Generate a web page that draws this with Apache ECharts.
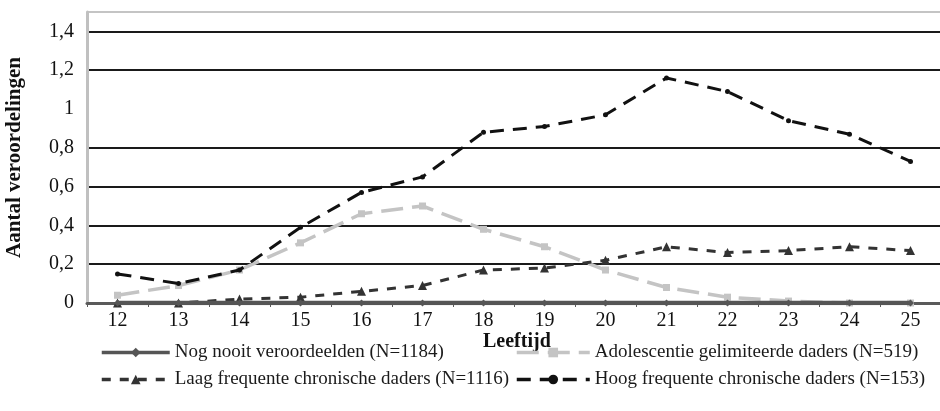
<!DOCTYPE html>
<html>
<head>
<meta charset="utf-8">
<script src="https://cdn.jsdelivr.net/npm/echarts@6/dist/echarts.min.js"></script>
<style>
  html, body { margin: 0; padding: 0; background: #fff; }
  #main { width: 940px; height: 411px; }
</style>
</head>
<body>
<div id="main"></div>
<script>
// leeftijden op de x-as
const ages = ['12', '13', '14', '15', '16', '17', '18', '19', '20', '21', '22', '23', '24', '25'];

// gemiddeld aantal veroordelingen per groep
const nogNooit = [0, 0, 0, 0, 0, 0, 0, 0, 0, 0, 0, 0, 0, 0];
const adolescentie = [0.04, 0.09, 0.17, 0.31, 0.46, 0.50, 0.38, 0.29, 0.17, 0.08, 0.03, 0.01, 0, 0];
const laagFrequent = [0, 0, 0.02, 0.03, 0.06, 0.09, 0.17, 0.18, 0.22, 0.29, 0.26, 0.27, 0.29, 0.27];
const hoogFrequent = [0.15, 0.10, 0.17, 0.39, 0.57, 0.65, 0.88, 0.91, 0.97, 1.16, 1.09, 0.94, 0.87, 0.73];

const names = [
  'Nog nooit veroordeelden (N=1184)',
  'Adolescentie gelimiteerde daders (N=519)',
  'Laag frequente chronische daders (N=1116)',
  'Hoog frequente chronische daders (N=153)'
];

const serif = 'Liberation Serif';
const chart = echarts.init(document.getElementById('main'), null, { renderer: 'canvas' });

const legendText = { fontFamily: serif, fontSize: 19, color: '#1a1a1a', lineHeight: 19 };

const option = {
  animation: false,
  grid: {
    left: 87, width: 854, top: 12, bottom: 108,
    outerBoundsMode: 'none',
    containLabel: false,
    show: true, borderColor: '#c4c4c4', borderWidth: 1
  },
  legend: [
    {
      data: [names[0], names[2]],
      orient: 'vertical', left: 95, top: 338,
      itemWidth: 68, itemHeight: 12, itemGap: 8,
      lineStyle: { width: 3.5 },
      textStyle: legendText
    },
    {
      data: [names[1], names[3]],
      orient: 'vertical', left: 510, top: 338,
      itemWidth: 73, itemHeight: 12, itemGap: 8,
      lineStyle: { width: 3.5 },
      textStyle: legendText
    }
  ],
  graphic: [
    {
      type: 'text', left: 483, top: 332,
      style: { text: 'Leeftijd', font: 'bold 20px "Liberation Serif"', fill: '#111' }
    }
  ],
  xAxis: {
    type: 'category',
    data: ages,
    boundaryGap: true,
    axisLine: { show: true, lineStyle: { color: '#5a5a5a', width: 3 } },
    axisTick: { show: true, length: 4, lineStyle: { color: '#5a5a5a', width: 1 } },
    axisLabel: { fontFamily: serif, fontSize: 20, color: '#111', margin: 8 }
  },
  yAxis: {
    type: 'value',
    min: 0, max: 1.5, interval: 0.2,
    name: 'Aantal veroordelingen',
    nameLocation: 'middle',
    nameGap: 62,
    nameTextStyle: { fontFamily: serif, fontSize: 21, fontWeight: 'bold', color: '#111' },
    axisLine: { show: true, lineStyle: { color: '#c0c0c0', width: 3 } },
    axisTick: { show: false },
    axisLabel: {
      fontFamily: serif, fontSize: 20, color: '#111', margin: 13,
      formatter: function (v) {
        if (v > 1.45) return '';
        return String(Math.round(v * 10) / 10).replace('.', ',');
      }
    },
    splitLine: {
      show: true,
      lineStyle: {
        width: 2,
        color: ['#1a1a1a', '#1a1a1a', '#1a1a1a', '#1a1a1a', '#1a1a1a',
                'rgba(0,0,0,0)', '#1a1a1a', '#1a1a1a', '#c4c4c4']
      }
    }
  },
  series: [
    {
      name: names[0], type: 'line', data: nogNooit, z: 5,
      symbol: 'diamond', symbolSize: 7,
      itemStyle: { color: '#555' },
      lineStyle: { color: '#555', width: 4.5 }
    },
    {
      name: names[1], type: 'line', data: adolescentie, z: 3,
      symbol: 'rect', symbolSize: 7,
      itemStyle: { color: '#c4c4c4' },
      lineStyle: { color: '#c4c4c4', width: 3.5, type: [22, 9] }
    },
    {
      name: names[2], type: 'line', data: laagFrequent, z: 4,
      symbol: 'triangle', symbolSize: 9,
      itemStyle: { color: '#333' },
      lineStyle: { color: '#333', width: 3, type: [9, 9] }
    },
    {
      name: names[3], type: 'line', data: hoogFrequent, z: 4,
      symbol: 'circle', symbolSize: 5,
      itemStyle: { color: '#111' },
      lineStyle: { color: '#111', width: 3, type: [14, 9] }
    }
  ]
};

chart.setOption(option);
</script>
</body>
</html>
